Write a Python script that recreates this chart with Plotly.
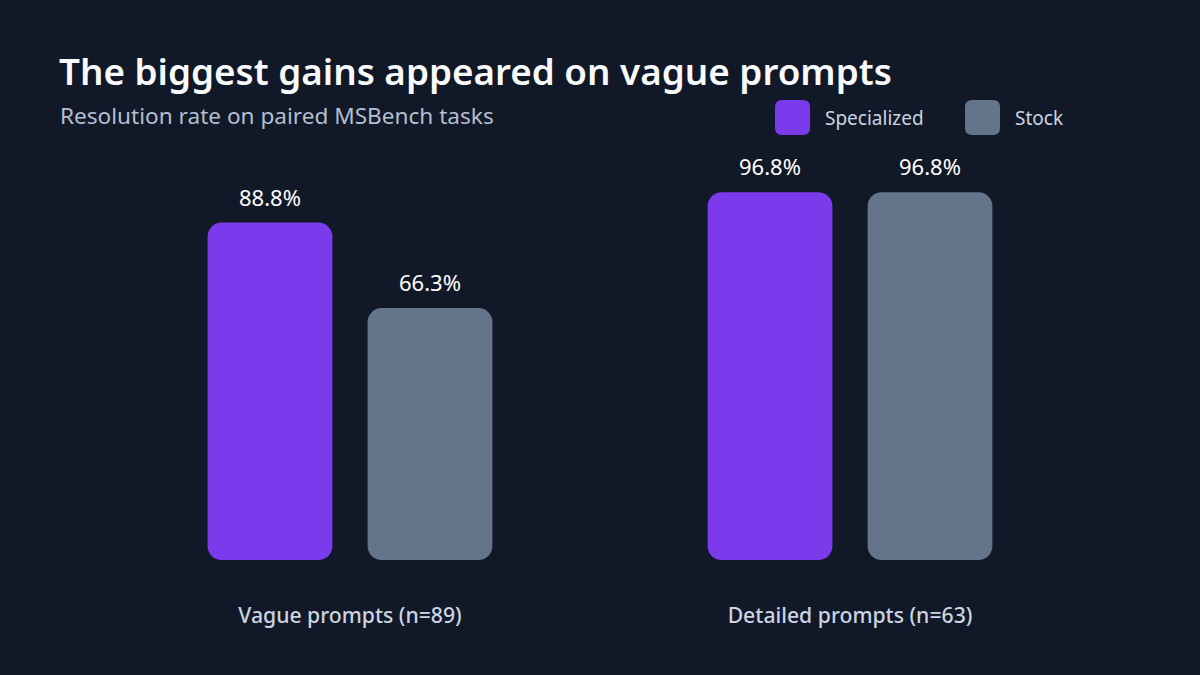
import plotly.graph_objects as go

categories = ["Vague prompts (n=89)", "Detailed prompts (n=63)"]
specialized = [88.8, 96.8]
stock = [66.3, 96.8]
series_names = ["Specialized", "Stock"]
colors = ["#7c3aed", "#64748b"]

FONT = "Segoe UI, Noto Sans, sans-serif"

fig = go.Figure()
for name, vals, col in zip(series_names, [specialized, stock], colors):
    fig.add_trace(go.Bar(x=categories, y=vals, base=[0] * len(vals), name=name,
                         marker=dict(color=col, line=dict(width=0)),
                         showlegend=False, hoverinfo="skip"))

annotations = []
for vals, shift in zip([specialized, stock], [-80, 80]):
    for c, v in zip(categories, vals):
        annotations.append(dict(x=c, y=v, xref="x", yref="y", text=f"{v:.1f}%",
                                showarrow=False, xshift=shift, yshift=26,
                                font=dict(family=FONT, size=22, color="#ffffff")))

# plot area: x 100..1100 px, y 180..560 px
def px(x):
    return (x - 100) / 1000

def py(y):
    return (560 - y) / 380

annotations.append(dict(x=px(58), y=py(116), xref="paper", yref="paper",
                        text="Resolution rate on paired MSBench tasks", showarrow=False,
                        xanchor="left", yanchor="middle",
                        font=dict(family=FONT, size=22.6, color="#b4bfcf")))

def rounded_rect(x0, y0, x1, y1, r):
    return (f"M {px(x0 + r)},{py(y0)} L {px(x1 - r)},{py(y0)} "
            f"Q {px(x1)},{py(y0)} {px(x1)},{py(y0 + r)} "
            f"L {px(x1)},{py(y1 - r)} Q {px(x1)},{py(y1)} {px(x1 - r)},{py(y1)} "
            f"L {px(x0 + r)},{py(y1)} Q {px(x0)},{py(y1)} {px(x0)},{py(y1 - r)} "
            f"L {px(x0)},{py(y0 + r)} Q {px(x0)},{py(y0)} {px(x0 + r)},{py(y0)} Z")

shapes = []
leg_x = [775, 965]
for lx, name, col in zip(leg_x, series_names, colors):
    shapes.append(dict(type="path", xref="paper", yref="paper",
                       path=rounded_rect(lx, 100, lx + 35, 135, 7),
                       fillcolor=col, line=dict(width=0), layer="above"))
    annotations.append(dict(x=px(lx + 48), y=py(117.5),
                            xref="paper", yref="paper", text=name, showarrow=False,
                            xanchor="left", yanchor="middle",
                            font=dict(family=FONT, size=19, color="#cbd5e1")))

fig.update_layout(
    width=1200, height=675,
    paper_bgcolor="#111827", plot_bgcolor="#111827",
    margin=dict(l=100, r=100, t=180, b=115),
    barmode="group", bargap=0.36, bargroupgap=0.22, barcornerradius=14,
    title=dict(text="The biggest gains appeared on vague prompts",
               x=59 / 1200, xanchor="left", xref="container",
               y=1 - 72 / 675, yanchor="middle", yref="container",
               font=dict(family=FONT, size=36.8, color="#f8fafc", weight=600)),
    showlegend=False,
    annotations=annotations,
    shapes=shapes,
    xaxis=dict(showgrid=False, zeroline=False, showline=False, ticks="",
               ticklabelstandoff=41,
               tickfont=dict(family=FONT, size=21.2, color="#cbd5e1", weight=500)),
    yaxis=dict(range=[0, 100], visible=False, showgrid=False, zeroline=False),
)

fig.write_html("out.html")
